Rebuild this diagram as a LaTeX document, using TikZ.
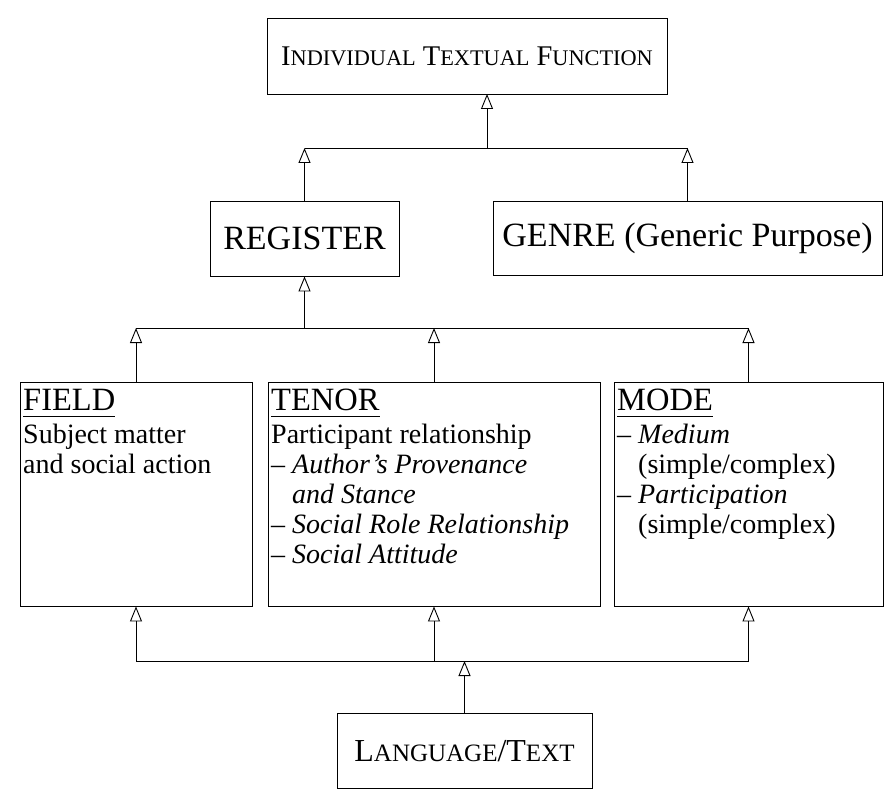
\documentclass[tikz,border=0pt]{standalone}
\usepackage{fontspec}
\setmainfont{Liberation Serif}
\usetikzlibrary{arrows.meta}
\newcommand\hdr[1]{\setbox0\hbox{#1}\usebox0\llap{\rule[-6.5pt]{\wd0}{0.8pt}}}
\newcommand\smA[1]{{\fontsize{22.3}{24}\selectfont #1}}
\newcommand\smB[1]{{\fontsize{25}{27}\selectfont #1}}
\begin{document}
\begin{tikzpicture}[x=1pt,y=-1pt,
  box/.style={draw,line width=0.9pt,inner sep=0pt},
  ln/.style={line width=0.9pt},
  arr/.style={line width=0.9pt,-{Triangle[open,length=15pt,width=12pt]}},
  title/.style={font=\fontsize{34}{36}\selectfont},
  head/.style={anchor=base west,inner sep=0pt,font=\fontsize{32.5}{34}\selectfont},
  body/.style={anchor=north west,inner sep=0pt,align=left,font=\fontsize{28}{30}\selectfont}]
\useasboundingbox (0,0) rectangle (885,791);
  % boxes
  \node[box,minimum width=400pt,minimum height=76pt,font=\fontsize{28.5}{30}\selectfont] (top) at (467,56)
    {I\smA{NDIVIDUAL} T\smA{EXTUAL} F\smA{UNCTION}};
  \node[box,title,minimum width=189pt,minimum height=75pt] (reg) at (304.5,238.5) {REGISTER};
  \node[box,title,minimum width=389pt,minimum height=74pt] (gen) at (687.5,238) {GENRE (Generic Purpose)};
  \node[box,minimum width=232pt,minimum height=224pt] (field) at (136,494) {};
  \node[box,minimum width=332pt,minimum height=224pt] (tenor) at (434,494) {};
  \node[box,minimum width=269pt,minimum height=224pt] (mode) at (748.5,494) {};
  \node[box,minimum width=255pt,minimum height=75pt,font=\fontsize{32}{34}\selectfont] (lang) at (464.5,751)
    {L\smB{ANGUAGE}/T\smB{EXT}};
  % box contents
  \node[head] (fieldh) at (23,410) {\hdr{FIELD}};
  \node[body] (fieldb) at (23,422) {\strut Subject matter\\and social action};
  \node[head] (tenorh) at (271,410) {\hdr{TENOR}};
  \node[body] (tenorb) at (271,422) {\strut Participant relationship\\
    – \textit{Author’s Provenance}\\
    \phantom{– }\textit{and Stance}\\
    – \textit{Social Role Relationship}\\
    – \textit{Social Attitude}};
  \node[head] (modeh) at (617,410) {\hdr{MODE}};
  \node[body] (modeb) at (617,422) {\strut – \textit{Medium}\\
    \phantom{– }(simple/complex)\\
    – \textit{Participation}\\
    \phantom{– }(simple/complex)};
  % junction points
  \coordinate (ubL) at (304.5,148);
  \coordinate (ubM) at (487,148);
  \coordinate (ubR) at (687.5,148);
  \coordinate (topin) at (487,94);
  \coordinate (lbF) at (136,328);
  \coordinate (lbR) at (304.5,328);
  \coordinate (lbT) at (434,328);
  \coordinate (lbM) at (748.5,328);
  \coordinate (bbF) at (136,661);
  \coordinate (bbT) at (434,661);
  \coordinate (bbL) at (464.5,661);
  \coordinate (bbM) at (748.5,661);
  % upper level
  \draw[ln] (ubL) -- (ubR);
  \draw[arr] (ubM) -- (topin);
  \draw[arr] (reg.north) -- (ubL);
  \draw[arr] (gen.north) -- (ubR);
  % middle level
  \draw[ln] (lbF) -- (lbM);
  \draw[arr] (lbR) -- (reg.south);
  \draw[arr] (field.north) -- (lbF);
  \draw[arr] (tenor.north) -- (lbT);
  \draw[arr] (mode.north) -- (lbM);
  % lower level
  \draw[ln] (bbF) -- (bbM);
  \draw[arr] (lang.north) -- (bbL);
  \draw[arr] (bbF) -- (field.south);
  \draw[arr] (bbT) -- (tenor.south);
  \draw[arr] (bbM) -- (mode.south);
\end{tikzpicture}
\end{document}
